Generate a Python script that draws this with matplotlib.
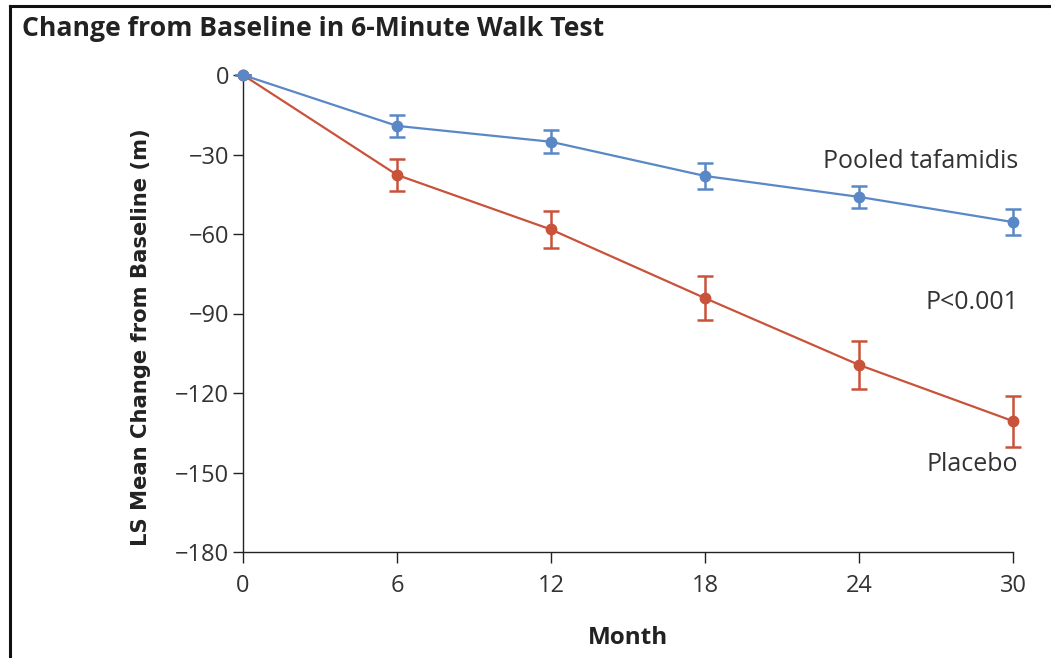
import matplotlib
matplotlib.use("Agg")
import matplotlib.pyplot as plt
from matplotlib.lines import Line2D

months = [0, 6, 12, 18, 24, 30]
tafamidis = [0, -19.2, -25.2, -38.1, -46.0, -55.5]
tafamidis_err = [0, 4.2, 4.3, 4.9, 4.2, 4.9]
placebo = [0, -37.7, -58.3, -84.2, -109.4, -130.6]
placebo_err = [0, 6.0, 7.0, 8.3, 9.0, 9.6]
yticks = [0, -30, -60, -90, -120, -150, -180]
xticks = [0, 6, 12, 18, 24, 30]

blue = "#5a88c6"
red = "#c9533a"

W, H = 1051, 658
fig = plt.figure(figsize=(W / 100, H / 100), dpi=100)
ax = fig.add_axes([243 / W, 1 - 552 / H, (1013 - 243) / W, (552 - 75) / H])

for y, e, c in [(placebo, placebo_err, red), (tafamidis, tafamidis_err, blue)]:
    ax.errorbar(months, y, yerr=e, color=c, lw=1.6, marker="o", ms=7.5,
                capsize=5.5, capthick=1.8, elinewidth=1.8, clip_on=False, zorder=3)

ax.set_xlim(0, 30)
ax.set_ylim(-180, 0)
ax.set_xticks(xticks)
ax.set_yticks(yticks)
ax.set_yticklabels(["0" if v == 0 else "\u2212" + str(-v) for v in yticks])
for s in ["top", "right"]:
    ax.spines[s].set_visible(False)
for s in ["left", "bottom"]:
    ax.spines[s].set_linewidth(1.0)
    ax.spines[s].set_color("#222222")
ax.tick_params(axis="y", direction="out", length=7, width=1, labelsize=17, pad=3, colors="#222222")
ax.tick_params(axis="x", direction="out", length=8, width=1, labelsize=17, pad=8, colors="#222222")
for lab in ax.get_xticklabels() + ax.get_yticklabels():
    lab.set_family("Open Sans")
    lab.set_color("#333333")

ax.set_ylabel("LS Mean Change from Baseline (m)", fontsize=15.2, fontweight="bold",
              family="DejaVu Sans", color="#222222")
ax.yaxis.set_label_coords((151 - 243) / 770, (552 - 337) / 477)
ax.set_xlabel("Month", fontsize=17.5, fontweight="bold", family="Open Sans",
              color="#222222")
ax.xaxis.set_label_coords((628 - 243) / 770, (552 - 638) / 477)
ax.xaxis.label.set_va("center")

ax.text(30.2, -32.8, "Pooled tafamidis", ha="right", va="center", fontsize=18,
        family="Open Sans", color="#333333")
ax.text(30.2, -85.7, "P<0.001", ha="right", va="center", fontsize=18,
        family="Open Sans", color="#333333")
ax.text(30.2, -147, "Placebo", ha="right", va="center", fontsize=18,
        family="Open Sans", color="#333333")

fig.text(22 / W, 1 - 29 / H, "Change from Baseline in 6-Minute Walk Test",
         ha="left", va="center", fontsize=19.2, fontweight="bold", family="Open Sans",
         color="#222222")

fig.add_artist(Line2D([10 / W, 1], [1 - 6 / H, 1 - 6 / H], transform=fig.transFigure,
                      color="#111111", lw=2.2))
fig.add_artist(Line2D([10 / W, 10 / W], [0, 1 - 6 / H], transform=fig.transFigure,
                      color="#111111", lw=2.2))

fig.savefig("out.png", dpi=100)
